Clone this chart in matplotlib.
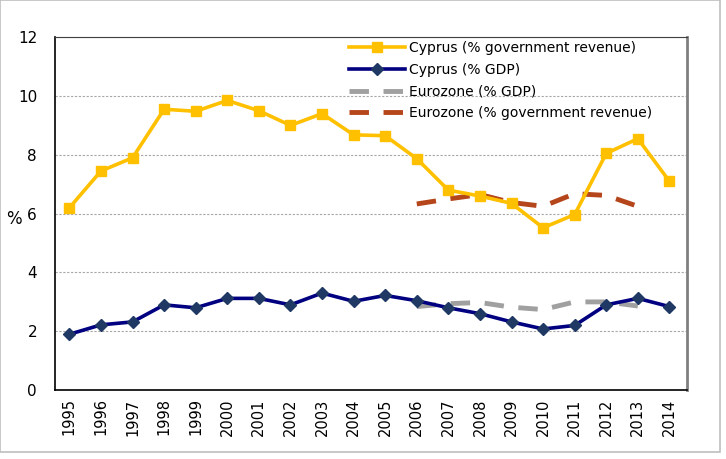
import matplotlib
matplotlib.use("Agg")
import matplotlib.pyplot as plt
from matplotlib.patches import Rectangle

years = list(range(1995, 2015))
cy_rev = [6.2, 7.45, 7.9, 9.55, 9.48, 9.85, 9.5, 9.0, 9.4, 8.68, 8.65,
          7.87, 6.8, 6.6, 6.35, 5.52, 5.97, 8.05, 8.55, 7.1]
cy_gdp = [1.9, 2.22, 2.32, 2.9, 2.8, 3.12, 3.12, 2.9, 3.3, 3.02, 3.22,
          3.04, 2.8, 2.6, 2.32, 2.08, 2.2, 2.9, 3.12, 2.84]
ez_years = list(range(2006, 2014))
ez_gdp = [2.84, 2.94, 2.98, 2.82, 2.74, 3.0, 3.0, 2.86]
ez_rev = [6.33, 6.5, 6.65, 6.38, 6.25, 6.68, 6.62, 6.25]

plt.rcParams['font.family'] = ['DejaVu Sans']

fig = plt.figure(figsize=(7.26, 4.59), dpi=100)
ax = fig.add_axes([0.076, 0.15, 0.87, 0.769])

ax.plot(years, cy_rev, color='#FFC000', lw=2.6, marker='s', ms=7,
        label='Cyprus (% government revenue)', zorder=3)
ax.plot(years, cy_gdp, color='#000080', lw=2.6, marker='D', ms=6,
        mfc='#1F3864', mec='#1F3864', label='Cyprus (% GDP)', zorder=4)
ax.plot(ez_years, ez_gdp, color='#A0A0A0', lw=3.5, ls=(0, (4, 3)),
        label='Eurozone (% GDP)', zorder=2)
ax.plot(ez_years, ez_rev, color='#B5451B', lw=3.5, ls=(0, (4, 3)),
        label='Eurozone (% government revenue)', zorder=2)

ax.set_xlim(1994.55, 2014.55)
ax.set_ylim(0, 12)
ax.set_yticks(range(0, 13, 2))
ax.set_xticks(years)
ax.set_xticklabels([str(y) for y in years], rotation=90, fontsize=10.5)
ax.tick_params(axis='y', labelsize=11, length=0, pad=13)
ax.tick_params(axis='x', length=0, pad=6)
ax.yaxis.grid(True, ls=(0, (2, 1.5)), color='#A6A6A6', lw=0.8)
ax.set_axisbelow(True)
ax.set_ylabel('%', rotation=0, fontsize=12, va='center', ha='center')
ax.yaxis.set_label_coords(-0.066, 0.485)

for side in ['left', 'bottom']:
    ax.spines[side].set_color('black')
    ax.spines[side].set_linewidth(1.2)
ax.spines['top'].set_color('#404040')
ax.spines['right'].set_color('#808080')
ax.spines['right'].set_linewidth(2)

leg = ax.legend(loc='upper left', bbox_to_anchor=(0.452, 1.012), frameon=False,
                fontsize=10, handlelength=4.0, borderaxespad=0.2,
                labelspacing=0.55, handletextpad=0.3)

fig.patches.append(Rectangle((0.0, 0.015), 0.992, 0.985, transform=fig.transFigure,
                             fill=False, ec='#BFBFBF', lw=1.2))

fig.savefig('out.png', dpi=100)
